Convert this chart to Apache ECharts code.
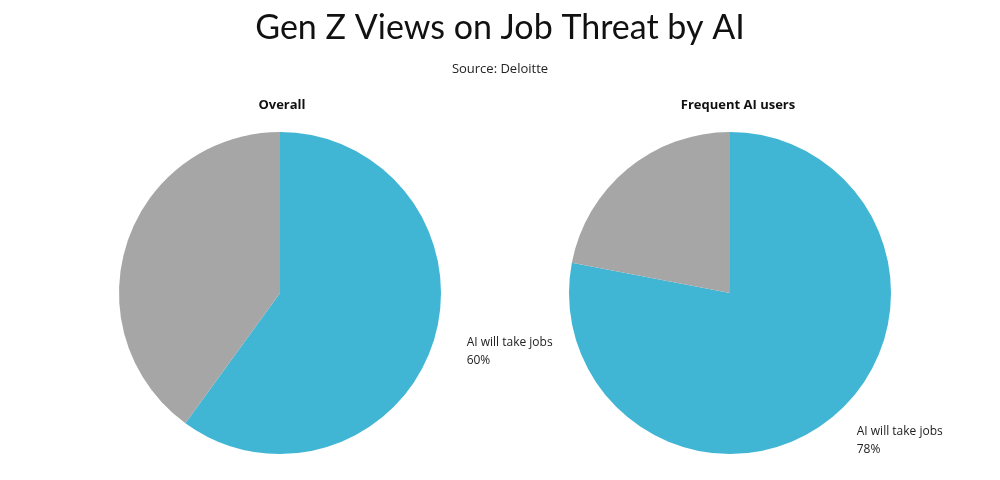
<!DOCTYPE html>
<html>
<head>
<meta charset="utf-8">
<script src="https://cdn.jsdelivr.net/npm/echarts@6/dist/echarts.min.js"></script>
<style>html,body{margin:0;padding:0;background:#fff}#chart{width:1000px;height:480px}</style>
</head>
<body>
<div id="chart"></div>
<script>
var categories = ['AI will take jobs', 'Other'];
var overallValues = [60, 40];
var frequentValues = [78, 22];
var pieTitles = ['Overall', 'Frequent AI users'];
var colors = ['#41b6d4', '#a6a6a6'];

function makeData(vals){
	var out = [];
	for(var i=0;i<vals.length;i++){
		out.push({
			value: vals[i], name: categories[i],
			itemStyle: {color: colors[i]},
			label: {show: i == 0}
		});
	}
	return out;
}

function makePie(center, vals){
	return {
		type: 'pie',
		radius: 161,
		center: center,
		startAngle: 90,
		clockwise: true,
		silent: true,
		data: makeData(vals),
		label: {
			position: 'outside',
			formatter: '{b}\n{d}%',
			color: '#222',
			fontSize: 12,
			lineHeight: 18,
			fontFamily: 'Open Sans',
			align: 'center'
		},
		labelLine: {show: false, length: 30, length2: 0}
	};
}

var myChart = echarts.init(document.getElementById('chart'));
var option = {
	backgroundColor: '#fff',
	title: [
		{text: 'Gen Z Views on Job Threat by AI', left: 'center', top: 6,
			textStyle: {fontFamily: 'Lato', fontWeight: 'normal', fontSize: 34, color: '#111'}},
		{text: 'Source: Deloitte', left: 'center', top: 58,
			textStyle: {fontFamily: 'Open Sans', fontWeight: 'normal', fontSize: 13, color: '#222'}},
		{text: pieTitles[0], left: 277, top: 94, textAlign: 'center',
			textStyle: {fontFamily: 'Open Sans', fontWeight: 'bold', fontSize: 13, color: '#111'}},
		{text: pieTitles[1], left: 733, top: 94, textAlign: 'center',
			textStyle: {fontFamily: 'Open Sans', fontWeight: 'bold', fontSize: 13, color: '#111'}}
	],
	series: [
		makePie([280, 293], overallValues),
		makePie([730, 293], frequentValues)
	]
};
myChart.setOption(option);
</script>
</body>
</html>
